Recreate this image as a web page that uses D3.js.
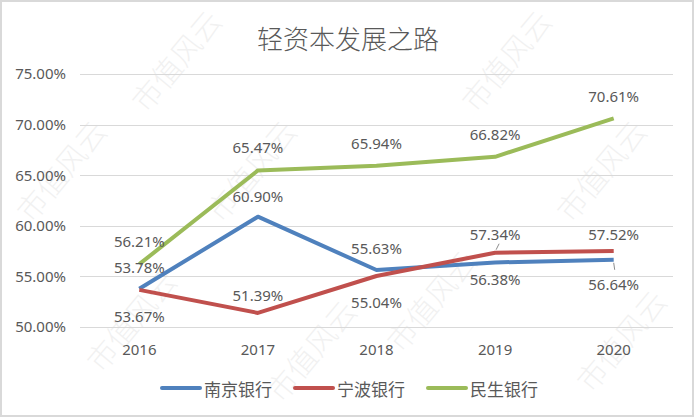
<!DOCTYPE html>
<html>
<head>
<meta charset="utf-8">
<script src="https://cdn.jsdelivr.net/npm/d3@7"></script>
<style>
  body { margin: 0; background: #fff; }
  text { font-family: "Noto Sans", "Noto Sans CJK SC", sans-serif; fill: #595959; }
</style>
</head>
<body>
<div id="chart"></div>
<script>
// chart data
const years = ["2016", "2017", "2018", "2019", "2020"];
const seriesNames = ["南京银行", "宁波银行", "民生银行"];
const nanjing = [53.78, 60.90, 55.63, 56.38, 56.64];
const ningbo = [53.67, 51.39, 55.04, 57.34, 57.52];
const minsheng = [56.21, 65.47, 65.94, 66.82, 70.61];
const yTicks = [50, 55, 60, 65, 70, 75];
const title = "轻资本发展之路";
const watermark = "市值风云";

// label offsets (px, relative to point) for each series
const nanjingDy = [-22, -21, -22, 17, 24];
const ningboDy = [26, -18, 26, -19, -17];
const minshengDy = [-23, -23, -23, -23, -22];

const width = 696, height = 419;
const margin = { top: 74, right: 23, bottom: 92, left: 80 };
const colors = ["#4F81BD", "#C0504D", "#9BBB59"];

const svg = d3.select("#chart").append("svg")
  .attr("width", width)
  .attr("height", height);

// outer frame
svg.append("rect")
  .attr("x", 1).attr("y", 1)
  .attr("width", width - 4).attr("height", height - 4)
  .attr("fill", "#fff")
  .attr("stroke", "#d9d9d9")
  .attr("stroke-width", 2);

// faint watermark
const wmSpots = [[175, 60], [505, 60], [60, 170], [250, 170], [600, 170], [130, 320], [430, 300], [620, 340], [310, 350]];
svg.append("g").selectAll("text")
  .data(wmSpots)
  .join("text")
  .attr("transform", d => `translate(${d[0]},${d[1]}) rotate(-50)`)
  .attr("text-anchor", "middle")
  .attr("dominant-baseline", "central")
  .style("font-size", "30px")
  .style("font-family", "'Noto Sans CJK SC'")
  .style("font-weight", 300)
  .style("fill", "#000")
  .style("opacity", 0.05)
  .text(watermark);

const x = d3.scaleBand()
  .domain(years)
  .range([margin.left, width - margin.right]);

const y = d3.scaleLinear()
  .domain([50, 75])
  .range([height - margin.bottom, margin.top]);

const cx = i => x(years[i]) + x.bandwidth() / 2;

// gridlines
svg.append("g")
  .selectAll("line")
  .data(yTicks)
  .join("line")
  .attr("x1", margin.left)
  .attr("x2", width - margin.right)
  .attr("y1", d => Math.round(y(d)) + 0.5)
  .attr("y2", d => Math.round(y(d)) + 0.5)
  .attr("stroke", "#d9d9d9")
  .attr("stroke-width", 1);

// y axis labels
const yAxis = d3.axisLeft(y)
  .tickValues(yTicks)
  .tickFormat(d => d.toFixed(2) + "%")
  .tickSize(0)
  .tickPadding(14);

svg.append("g")
  .attr("transform", `translate(${margin.left},0)`)
  .call(yAxis)
  .call(g => g.select(".domain").remove())
  .call(g => g.selectAll("text").style("font-size", "15px").style("font-family", null).attr("fill", null));

// x axis labels
const xAxis = d3.axisBottom(x).tickSize(0).tickPadding(17);
svg.append("g")
  .attr("transform", `translate(0,${height - margin.bottom})`)
  .call(xAxis)
  .call(g => g.select(".domain").remove())
  .call(g => g.selectAll("text").style("font-size", "15px").style("font-family", null).attr("fill", null));

// title
svg.append("text")
  .attr("x", width / 2)
  .attr("y", 49)
  .attr("text-anchor", "middle")
  .style("font-size", "26px")
  .style("font-family", "'Noto Sans CJK SC'")
  .style("font-weight", 300)
  .text(title);

const series = [
  { name: seriesNames[0], values: nanjing, dy: nanjingDy, color: colors[0] },
  { name: seriesNames[1], values: ningbo, dy: ningboDy, color: colors[1] },
  { name: seriesNames[2], values: minsheng, dy: minshengDy, color: colors[2] }
];

const line = d3.line()
  .x((d, i) => cx(i))
  .y(d => y(d));

svg.append("g")
  .selectAll("path")
  .data(series)
  .join("path")
  .attr("fill", "none")
  .attr("stroke", d => d.color)
  .attr("stroke-width", 4)
  .attr("stroke-linejoin", "round")
  .attr("d", d => line(d.values));

// small leader lines for the two crowded labels
svg.append("line")
  .attr("x1", cx(3) + 1).attr("x2", cx(3) + 4)
  .attr("y1", y(ningbo[3]) - 3).attr("y2", y(ningbo[3]) - 9)
  .attr("stroke", "#8c8c8c").attr("stroke-width", 1);
svg.append("line")
  .attr("x1", cx(4)).attr("x2", cx(4) + 1)
  .attr("y1", y(nanjing[4]) + 3).attr("y2", y(nanjing[4]) + 10)
  .attr("stroke", "#8c8c8c").attr("stroke-width", 1);

// data labels
series.forEach(s => {
  svg.append("g")
    .selectAll("text")
    .data(s.values)
    .join("text")
    .attr("x", (d, i) => cx(i))
    .attr("y", (d, i) => y(d) + s.dy[i])
    .attr("text-anchor", "middle")
    .attr("dominant-baseline", "central")
    .style("font-size", "15px")
    .text(d => d.toFixed(2) + "%");
});

// legend
const legendX = [162, 295, 428];
const legend = svg.append("g").attr("transform", "translate(0,388)");
series.forEach((s, i) => {
  legend.append("line")
    .attr("x1", legendX[i]).attr("x2", legendX[i] + 38)
    .attr("y1", 0).attr("y2", 0)
    .attr("stroke", s.color)
    .attr("stroke-width", 4)
    .attr("stroke-linecap", "round");
  legend.append("text")
    .attr("x", legendX[i] + 42)
    .attr("y", 0)
    .attr("dominant-baseline", "central")
    .style("font-size", "17px")
    .style("font-family", "'Noto Sans CJK SC'")
    .text(s.name);
});
</script>
</body>
</html>
